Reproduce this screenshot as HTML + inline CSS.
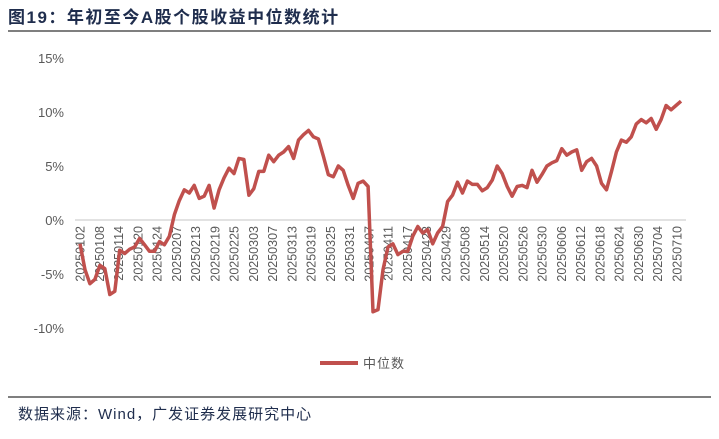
<!DOCTYPE html>
<html><head><meta charset="utf-8"><style>
body{margin:0;background:#fff;width:719px;height:434px;overflow:hidden;font-family:"Liberation Sans","Noto Sans CJK SC",sans-serif}
</style></head><body>
<svg id="c" width="719" height="434" xmlns="http://www.w3.org/2000/svg">
<text x="8" y="23" font-size="17" font-weight="bold" fill="#1f2d4d" letter-spacing="1.5" font-family="Liberation Sans,Noto Sans CJK SC,sans-serif">图19：年初至今A股个股收益中位数统计</text>
<line x1="8" y1="31" x2="711" y2="31" stroke="#333" stroke-width="1.2"/>
<g id="grid"></g><g id="yax"></g><g id="xax"></g><g id="ser"></g>
<line x1="320" y1="363" x2="358" y2="363" stroke="#c0504d" stroke-width="4"/>
<text x="363" y="368" font-size="13" fill="#595959" letter-spacing="1" font-family="Liberation Sans,Noto Sans CJK SC,sans-serif">中位数</text>
<line x1="8" y1="397" x2="711" y2="397" stroke="#333" stroke-width="1.2"/>
<text x="18" y="419" font-size="15" fill="#1f2d4d" letter-spacing="1" font-family="Liberation Sans,Noto Sans CJK SC,sans-serif">数据来源：Wind，广发证券发展研究中心</text>
</svg>
<script>
const yTicks=[15,10,5,0,-5,-10];
const yTickLabels=["15%","10%","5%","0%","-5%","-10%"];
const xLabels=["20250102","20250108","20250114","20250120","20250124","20250207","20250213","20250219","20250225","20250303","20250307","20250313","20250319","20250325","20250331","20250407","20250411","20250417","20250423","20250429","20250508","20250514","20250520","20250526","20250530","20250606","20250612","20250618","20250624","20250630","20250704","20250710"];
const medianValues=[-2.2,-4.6,-5.9,-5.5,-4.2,-4.5,-6.9,-6.6,-2.8,-3.1,-2.7,-2.5,-1.7,-2.3,-2.9,-2.9,-2.0,-2.3,-1.5,0.5,1.8,2.8,2.5,3.2,2.0,2.2,3.2,1.1,2.8,3.9,4.8,4.3,5.7,5.6,2.3,2.9,4.5,4.5,6.0,5.4,6.0,6.3,6.8,5.7,7.4,7.9,8.3,7.7,7.5,5.9,4.2,4.0,5.0,4.6,3.2,2.0,3.4,3.6,3.1,-8.5,-8.3,-4.6,-2.5,-2.2,-3.2,-2.9,-2.9,-1.5,-0.6,-1.2,-0.9,-2.2,-1.2,-0.6,1.7,2.3,3.5,2.5,3.6,3.3,3.3,2.7,3.0,3.7,5.0,4.3,3.1,2.2,3.1,3.2,3.0,4.6,3.5,4.2,5.0,5.3,5.5,6.6,6.0,6.3,6.5,4.6,5.4,5.7,5.0,3.4,2.8,4.5,6.3,7.4,7.2,7.7,8.9,9.3,9.0,9.4,8.4,9.3,10.6,10.2,10.6,11.0];
const NS="http://www.w3.org/2000/svg";
const X0=80,X1=681;
const LX0=80,LX1=677;
const y=v=>220-v*10.8;
const xi=i=>X0+(X1-X0)*i/(medianValues.length-1);
const xl=i=>LX0+(LX1-LX0)*i/(xLabels.length-1);
function mk(t,a,p){const e=document.createElementNS(NS,t);for(const k in a)e.setAttribute(k,a[k]);document.getElementById(p).appendChild(e);return e;}
yTicks.forEach((v,i)=>{
 if(v===0){const g=mk('line',{x1:X0-5,x2:X1+5,y1:y(0),y2:y(0),stroke:'#d9d9d9','stroke-width':1.5},'grid');
 
 }
 const t=mk('text',{x:64,y:y(v)+5,'text-anchor':'end','font-size':13,fill:'#595959'},'yax');
 t.textContent=yTickLabels[i];
 
 
});
xLabels.forEach((s,i)=>{
 const x=xl(i);
 const t=mk('text',{x:0,y:0,transform:`translate(${x+4.5},${226}) rotate(-90)`,'text-anchor':'end','font-size':12.5,fill:'#595959'},'xax');
 t.textContent=s;
 
 
});
const p=mk('polyline',{points:medianValues.map((v,i)=>xi(i).toFixed(1)+','+y(v).toFixed(1)).join(' '),fill:'none',stroke:'#c0504d','stroke-width':3.5,'stroke-linejoin':'round'},'ser');


</script>
</body></html>
